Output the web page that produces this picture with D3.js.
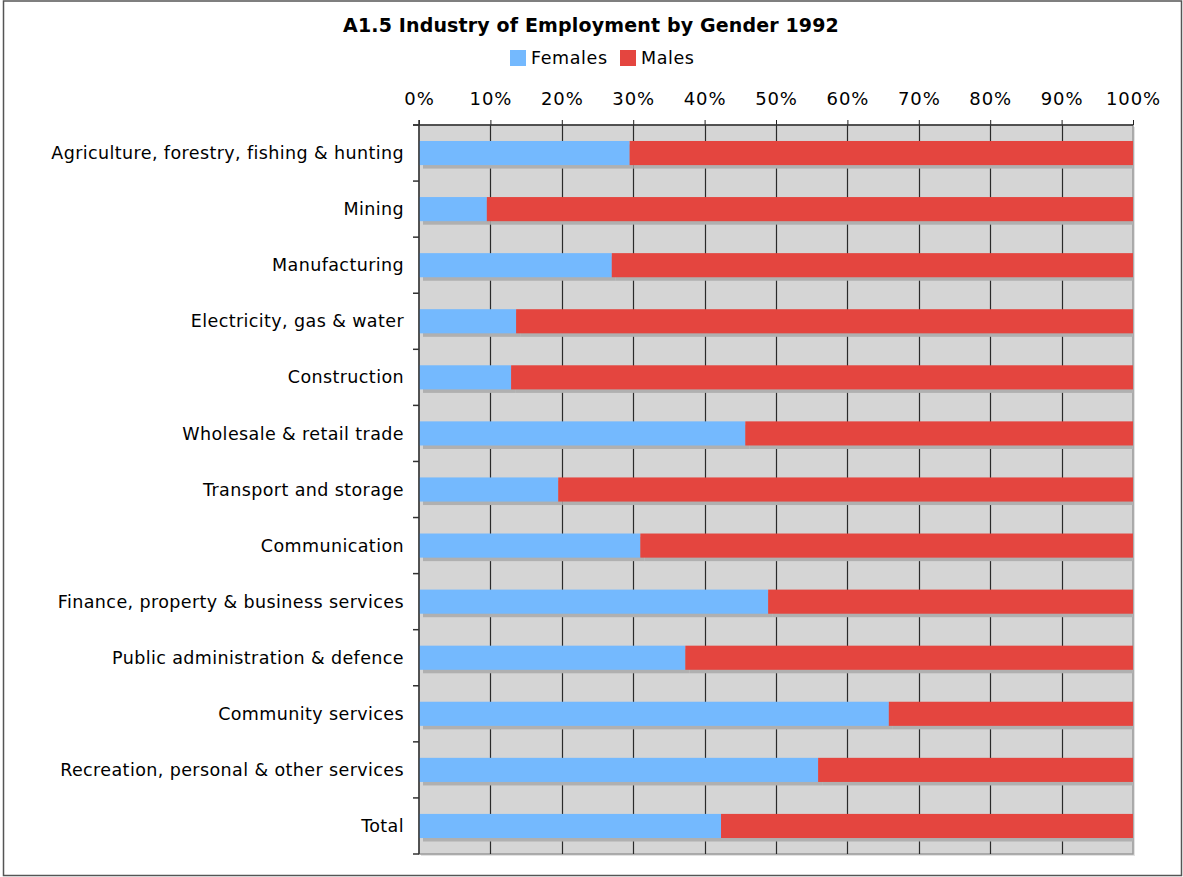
<!DOCTYPE html>
<html>
<head>
<meta charset="utf-8">
<script src="https://cdn.jsdelivr.net/npm/d3@7"></script>
<style>
  body { margin: 0; background: #fff; }
  text { font-family: "DejaVu Sans", Verdana, sans-serif; fill: #000; }
</style>
</head>
<body>
<div id="chart"></div>
<script>
var svgWidth = 1183;
var svgHeight = 877;

// data (share of employment, %)
var industries = [
    "Agriculture, forestry, fishing & hunting",
    "Mining",
    "Manufacturing",
    "Electricity, gas & water",
    "Construction",
    "Wholesale & retail trade",
    "Transport and storage",
    "Communication",
    "Finance, property & business services",
    "Public administration & defence",
    "Community services",
    "Recreation, personal & other services",
    "Total"
];
var females = [29.5, 9.5, 27.0, 13.6, 12.9, 45.7, 19.5, 31.0, 48.9, 37.3, 65.8, 55.9, 42.3];
var males = females.map(f => 100 - f);
var seriesNames = ["Females", "Males"];
var seriesColors = ["#74b9fe", "#e4453f"];
var xTicks = [0, 10, 20, 30, 40, 50, 60, 70, 80, 90, 100];

var plot = { left: 419, right: 1133, top: 125, bottom: 854 };

var svg = d3.select("#chart")
    .append("svg")
    .attr("width", svgWidth)
    .attr("height", svgHeight);

// outer frame
svg.append("rect")
    .attr("x", 3.5).attr("y", 1)
    .attr("width", 1178).attr("height", 874.5)
    .attr("fill", "#fff")
    .attr("stroke", "#555")
    .attr("stroke-width", 1.5);

var xScale = d3.scaleLinear().domain([0, 100]).range([plot.left, plot.right]);
var yScale = d3.scaleBand()
    .domain(industries)
    .range([plot.top, plot.bottom])
    .paddingInner(0.57)
    .paddingOuter(0.285);

// plot background with soft edge shadow
svg.append("rect")
    .attr("x", plot.left + 2).attr("y", plot.top + 2)
    .attr("width", plot.right - plot.left).attr("height", plot.bottom - plot.top)
    .attr("fill", "#e2e2e2");
svg.append("rect")
    .attr("x", plot.left).attr("y", plot.top)
    .attr("width", plot.right - plot.left).attr("height", plot.bottom - plot.top)
    .attr("fill", "#d5d5d5")
    .attr("stroke", "#9a9a9a")
    .attr("stroke-width", 1.5);

// vertical grid
svg.append("g")
    .selectAll("line")
    .data(xTicks.slice(1, -1))
    .join("line")
    .attr("x1", d => Math.round(xScale(d)) + 0.5)
    .attr("x2", d => Math.round(xScale(d)) + 0.5)
    .attr("y1", plot.top)
    .attr("y2", plot.bottom)
    .attr("stroke", "#2a2a2a")
    .attr("stroke-width", 1.2);

// stacked segments
var stacked = industries.map((name, i) => ({ name: name, values: [females[i], males[i]] }));
var segs = [];
stacked.forEach(d => {
    var x0 = 0;
    d.values.forEach((v, j) => {
        segs.push({ name: d.name, x0: x0, x1: x0 + v, series: j });
        x0 += v;
    });
});

// bar shadows
svg.append("g")
    .selectAll("rect")
    .data(segs)
    .join("rect")
    .attr("x", d => xScale(d.x0) + 4)
    .attr("y", d => yScale(d.name) + 3.5)
    .attr("width", d => Math.max(0, Math.min(xScale(d.x1) + 4, plot.right) - xScale(d.x0) - 4))
    .attr("height", yScale.bandwidth())
    .attr("fill", "#b0b0b0");

svg.append("g")
    .selectAll("rect")
    .data(segs)
    .join("rect")
    .attr("x", d => xScale(d.x0))
    .attr("y", d => yScale(d.name))
    .attr("width", d => xScale(d.x1) - xScale(d.x0))
    .attr("height", yScale.bandwidth())
    .attr("fill", d => seriesColors[d.series]);

// top axis
var xAxis = d3.axisTop(xScale)
    .tickValues(xTicks)
    .tickFormat(d => d + "%")
    .tickSize(5)
    .tickSizeOuter(0);
var xg = svg.append("g")
    .attr("transform", `translate(0, ${plot.top})`)
    .call(xAxis);
xg.select(".domain").remove();
xg.append("line")
    .attr("x1", plot.left - 6).attr("x2", plot.right)
    .attr("y1", 0).attr("y2", 0)
    .attr("stroke", "#333").attr("stroke-width", 1.5);
xg.selectAll(".tick line").attr("stroke", "#222");
xg.selectAll(".tick text")
    .attr("y", -20)
    .attr("fill", "#000")
    .style("font-size", "18px")
    .style("letter-spacing", "0.9px")
    .style("font-family", "DejaVu Sans, Verdana, sans-serif");

// left axis: line, boundary ticks, labels
var ly = svg.append("g");
ly.append("line")
    .attr("x1", plot.left).attr("x2", plot.left)
    .attr("y1", plot.top - 5).attr("y2", plot.bottom)
    .attr("stroke", "#333").attr("stroke-width", 1.5);
var bounds = d3.range(industries.length + 1).map(i => plot.top + i * (plot.bottom - plot.top) / industries.length);
ly.selectAll(".btick")
    .data(bounds)
    .join("line")
    .attr("class", "btick")
    .attr("x1", plot.left - 6).attr("x2", plot.left)
    .attr("y1", d => d).attr("y2", d => d)
    .attr("stroke", "#333").attr("stroke-width", 1.5);
ly.selectAll(".lab")
    .data(industries)
    .join("text")
    .attr("class", "lab")
    .attr("x", plot.left - 15)
    .attr("y", d => yScale(d) + yScale.bandwidth() / 2)
    .attr("dy", "0.35em")
    .attr("text-anchor", "end")
    .style("font-size", "17.5px")
    .style("letter-spacing", "0.4px")
    .text(d => d);

// title
svg.append("text")
    .attr("x", 591)
    .attr("y", 32)
    .attr("text-anchor", "middle")
    .style("font-size", "19px")
    .style("font-weight", "bold")
    .style("letter-spacing", "0.15px")
    .text("A1.5 Industry of Employment by Gender 1992");

// legend
var legendX = [510, 620];
var lg = svg.append("g").selectAll("g")
    .data(seriesNames)
    .join("g")
    .attr("transform", (d, i) => `translate(${legendX[i]}, 50)`);
lg.append("rect")
    .attr("width", 16).attr("height", 16)
    .attr("fill", (d, i) => seriesColors[i]);
lg.append("text")
    .attr("x", 21)
    .attr("y", 8)
    .attr("dy", "0.35em")
    .style("font-size", "17.5px")
    .style("letter-spacing", "0.6px")
    .text(d => d);
</script>
</body>
</html>
